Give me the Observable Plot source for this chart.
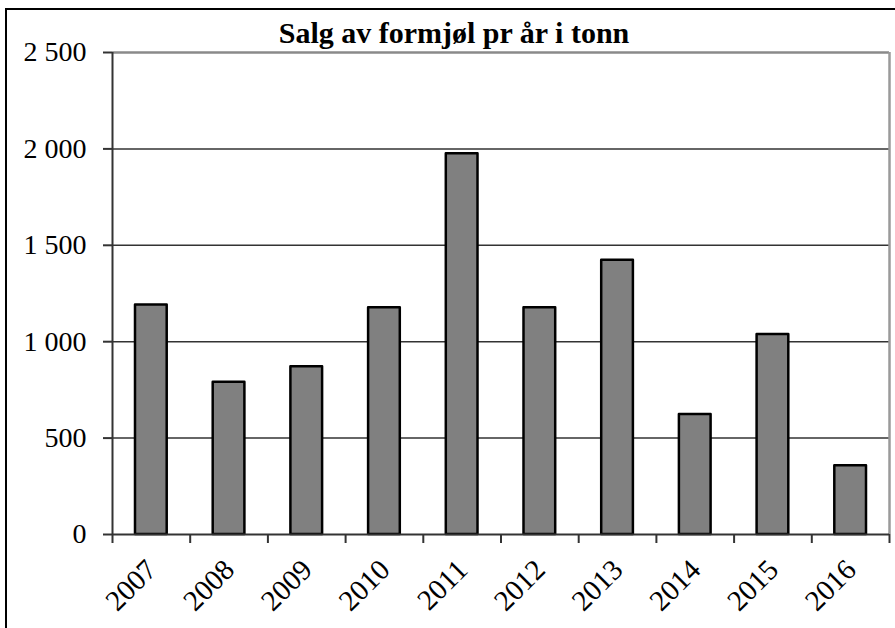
<!DOCTYPE html>
<html><head><meta charset="utf-8">
<script src="https://cdn.jsdelivr.net/npm/d3@7"></script>
<script src="https://cdn.jsdelivr.net/npm/@observablehq/plot@0.6"></script>
<style>
body{margin:0;background:#fff;}
#wrap{position:relative;width:895px;height:628px;overflow:hidden;background:#fff;}
#border{position:absolute;left:5px;top:8px;width:900px;height:700px;border-top:2.5px solid #000;border-left:2.5px solid #000;pointer-events:none;}
</style></head><body>
<div id="wrap"><div id="border"></div></div>
<script>
const title = "Salg av formjøl pr år i tonn";
const years = ["2007","2008","2009","2010","2011","2012","2013","2014","2015","2016"];
const sales = [1190, 790, 870, 1176, 1975, 1176, 1422, 622, 1037, 357];
const yTicks = [0, 500, 1000, 1500, 2000, 2500];
const gridValues = [500, 1000, 1500, 2000];
const fmt = d => d3.format(",")(d).replace(/,/g, " ");

const data = years.map((year, i) => ({year, i, value: sales[i]}));
const boundaries = years.map((_, i) => i).concat([years.length]);

const chart = Plot.plot({
  width: 895, height: 628,
  marginLeft: 112, marginRight: 6, marginTop: 52, marginBottom: 94,
  style: {fontFamily: "'Liberation Serif', 'Times New Roman', serif", fontSize: "28px", background: "transparent", color: "#000"},
  x: {domain: [0, years.length], label: null},
  y: {domain: [0, 2500], label: null},
  marks: [
    Plot.ruleY(gridValues, {stroke: "#333", strokeWidth: 1.5}),
    Plot.ruleY([2500], {stroke: "#8a8a8a", strokeWidth: 2.5}),
    Plot.ruleX([years.length], {stroke: "#9a9a9a", strokeWidth: 2.5}),
    Plot.rectY(data, {x1: "i", x2: d => d.i + 1, y: "value", insetLeft: 23, insetRight: 23,
      fill: "#808080", stroke: "#000", strokeWidth: 2.5, strokeLinejoin: "round"}),
    Plot.ruleX([0], {stroke: "#333", strokeWidth: 2}),
    Plot.ruleY([0], {stroke: "#333", strokeWidth: 2}),
    Plot.axisY(yTicks, {label: null, tickSize: 9, tickPadding: 17, tickFormat: fmt, stroke: "#333", strokeWidth: 2, fontSize: 28, fill: "#000"}),
    Plot.axisX(boundaries, {label: null, tickSize: 9, tickFormat: () => "", stroke: "#333", strokeWidth: 2}),
    Plot.text(data, {x: d => d.i + 0.5, text: "year", frameAnchor: "bottom", rotate: -45, textAnchor: "end",
      dx: 7, dy: 37, fontSize: 29, fill: "#000"}),
    Plot.text([title], {frameAnchor: "top", dx: -47, dy: -31, fontWeight: "bold", fontSize: 30, fill: "#000"})
  ]
});
document.getElementById("wrap").prepend(chart);
</script>
</body></html>
